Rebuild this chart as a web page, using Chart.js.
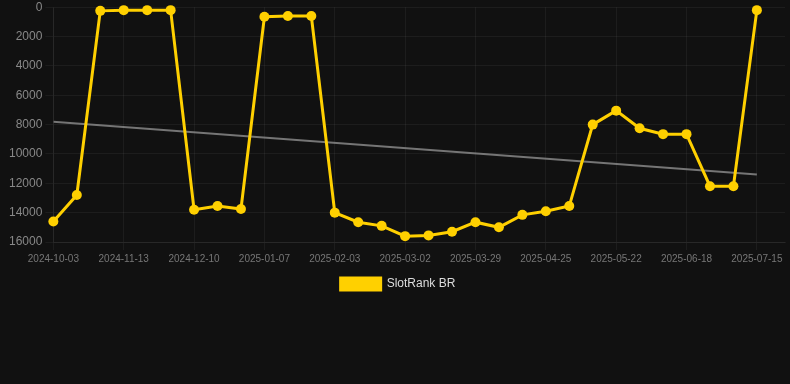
<!DOCTYPE html>
<html>
<head>
<meta charset="utf-8">
<script src="https://cdn.jsdelivr.net/npm/chart.js@4"></script>
<style>
    html, body { margin: 0; padding: 0; background: #111111; }
    #wrap { position: relative; width: 790px; height: 303px; margin-top: -3px; }
</style>
</head>
<body>
<div id="wrap"><canvas id="rank-chart"></canvas></div>
<script>
// Dates for each data point (only every third one is shown on the axis)
const dates = [
    '2024-10-03', '2024-10-16', '2024-10-30', '2024-11-13', '2024-11-22', '2024-12-01',
    '2024-12-10', '2024-12-19', '2024-12-28', '2025-01-07', '2025-01-16', '2025-01-25',
    '2025-02-03', '2025-02-12', '2025-02-21', '2025-03-02', '2025-03-11', '2025-03-20',
    '2025-03-29', '2025-04-07', '2025-04-16', '2025-04-25', '2025-05-04', '2025-05-13',
    '2025-05-22', '2025-05-31', '2025-06-09', '2025-06-18', '2025-06-27', '2025-07-06',
    '2025-07-15'
];

// Rank values
const rankValues = [
    14600, 12800, 250, 200, 200, 200,
    13800, 13550, 13750, 650, 600, 600,
    14000, 14650, 14900, 15600, 15550, 15300,
    14650, 15000, 14150, 13900, 13550, 8000,
    7050, 8250, 8650, 8650, 12200, 12200,
    200
];

// Trend line end points (first and last date)
const trendStart = 7800;
const trendEnd = 11400;

const yTicks = [0, 2000, 4000, 6000, 8000, 10000, 12000, 14000, 16000];

document.addEventListener('DOMContentLoaded', () => {
    const rankPoints = rankValues.map((v, i) => ({ x: i, y: v }));
    const trendPoints = [
        { x: 0, y: trendStart },
        { x: dates.length - 1, y: trendEnd }
    ];

    const gridColor = 'rgba(255, 255, 255, 0.05)';
    const font = { size: 12, family: 'Liberation Sans, Arial, sans-serif' };

    const ctx = document.getElementById('rank-chart');
    new Chart(ctx, {
        type: 'line',
        data: {
            datasets: [{
                label: 'SlotRank BR',
                data: rankPoints,
                borderColor: '#ffd000',
                backgroundColor: '#ffd000',
                borderWidth: 3,
                pointRadius: 5,
                pointBackgroundColor: '#ffd000',
                pointBorderWidth: 0,
                tension: 0,
                clip: false,
                order: 1
            }, {
                label: 'trend',
                data: trendPoints,
                borderColor: 'rgba(160, 160, 160, 0.7)',
                borderWidth: 2,
                pointRadius: 0,
                tension: 0,
                order: 2
            }]
        },
        options: {
            responsive: true,
            maintainAspectRatio: false,
            animation: false,
            layout: { padding: { left: 6 } },
            scales: {
                x: {
                    type: 'linear',
                    min: 0,
                    max: 31.2,
                    grid: { color: gridColor, tickLength: 8 },
                    border: { color: gridColor },
                    ticks: {
                        stepSize: 3,
                        includeBounds: false,
                        maxRotation: 0,
                        autoSkip: false,
                        color: '#777',
                        font: { size: 10, family: font.family },
                        callback: (value) => dates[value] || ''
                    }
                },
                y: {
                    reverse: true,
                    min: 0,
                    max: 16000,
                    afterBuildTicks: (axis) => {
                        axis.ticks = yTicks.map(v => ({ value: v }));
                    },
                    grid: { color: gridColor, tickLength: 8 },
                    border: { color: gridColor },
                    ticks: {
                        color: '#888',
                        font: font,
                        callback: (value) => String(value)
                    }
                }
            },
            plugins: {
                legend: {
                    position: 'bottom',
                    labels: {
                        color: '#ddd',
                        boxWidth: 40,
                        boxHeight: 12,
                        font: font,
                        filter: (item) => item.text !== 'trend'
                    }
                },
                tooltip: { enabled: false }
            }
        }
    });
});
</script>
</body>
</html>
